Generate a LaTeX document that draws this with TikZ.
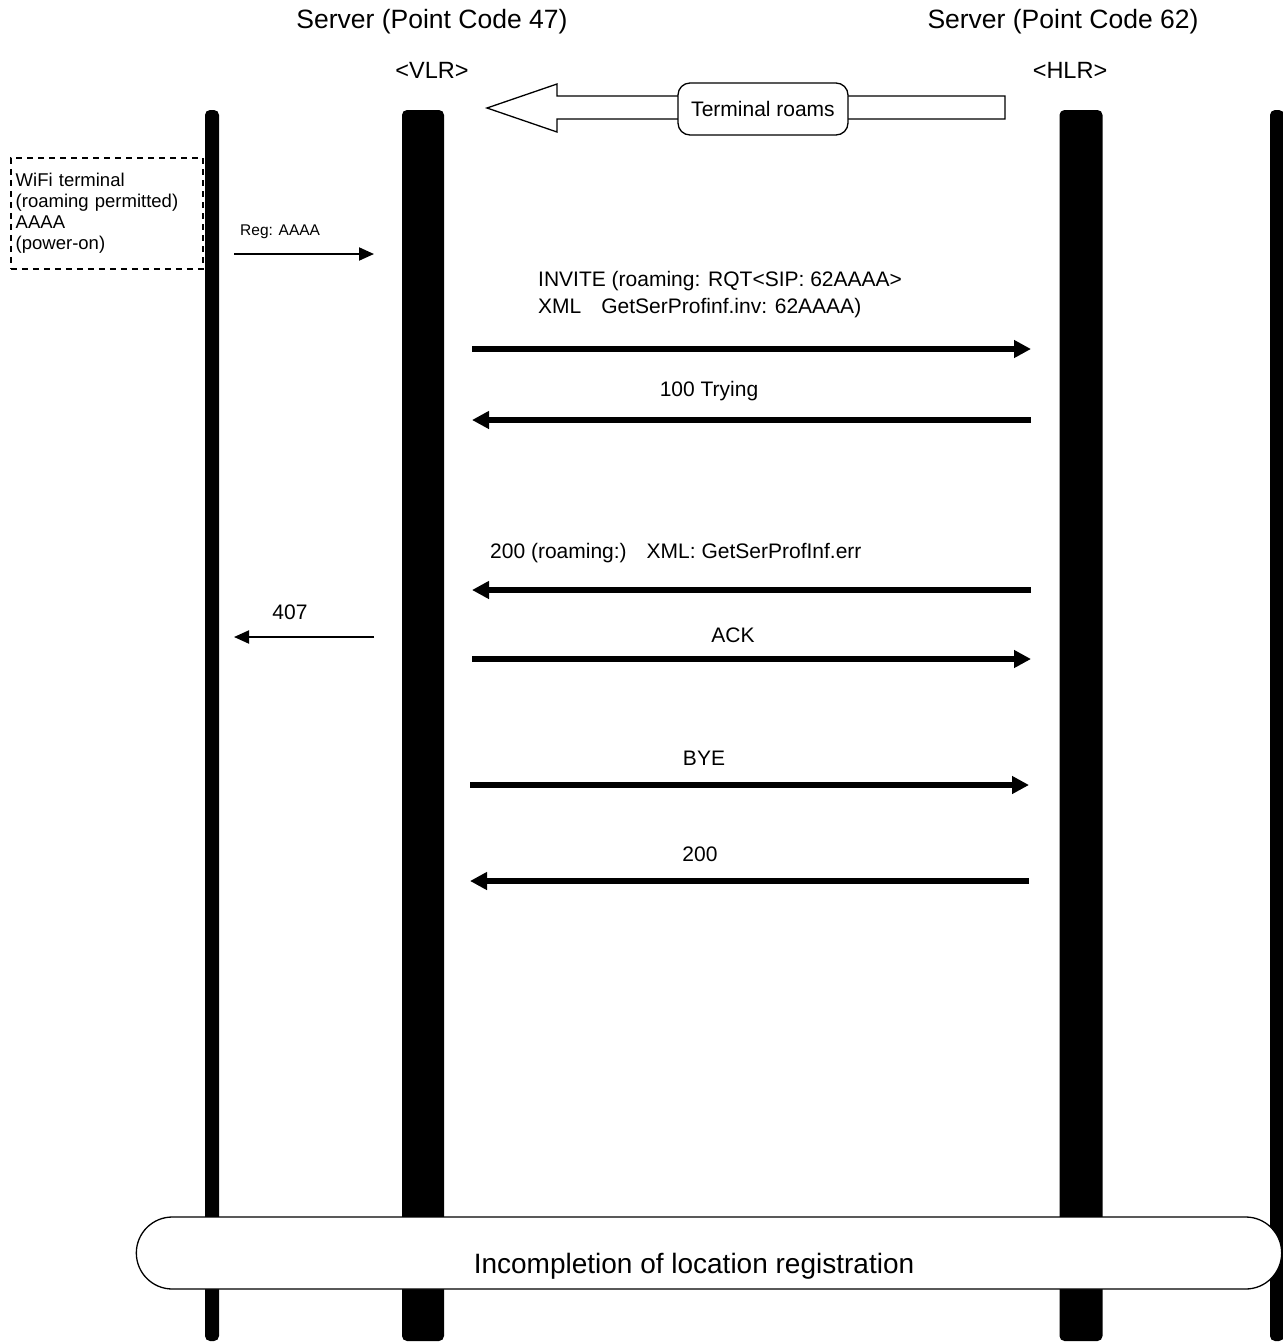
\documentclass[tikz,border=0pt]{standalone}
\usepackage{fontspec}
\setmainfont{Liberation Sans}
\usetikzlibrary{arrows.meta,shapes.misc}
\begin{document}
\begin{tikzpicture}[x=1pt,y=-1pt,
  msg/.style={line width=5.5pt,-{Triangle[length=17pt,width=17pt]}},
  thinmsg/.style={line width=2pt,-{Triangle[length=15pt,width=13pt]}},
  lbl/.style={font=\fontsize{21}{27}\selectfont,inner sep=0pt},
  hdr/.style={font=\fontsize{26.5}{28}\selectfont,inner sep=0pt}]
  \useasboundingbox (0,0) rectangle (1283,1342);

  \foreach \n/\x/\w in {term/212/14,vlr/423/42,hlr/1081/43,far/1277/14}{
    \fill[rounded corners=5pt] (\x-\w/2,1341) -- (\x-\w/2,110) -- (\x+\w/2,110) -- (\x+\w/2,1341) -- cycle;
    \coordinate (\n) at (\x,110);}

  \node[hdr] (srv47) at (432,22) {Server (Point Code 47)};
  \node[hdr,font=\fontsize{23.5}{26}\selectfont] (vlrlbl) at (432,70) {<VLR>};
  \node[hdr] (srv62) at (1063,22) {Server (Point Code 62)};
  \node[hdr,font=\fontsize{23.5}{26}\selectfont] (hlrlbl) at (1070,70) {<HLR>};

  \draw[line width=1.3pt,fill=white] (487,108) -- (557,84) -- (557,96) -- (1005,96) -- (1005,119) -- (557,119) -- (557,132) -- cycle;
  \node[draw,line width=1.3pt,fill=white,rounded corners=12pt,minimum width=170pt,minimum height=52pt,lbl] (roams) at (763,109) {Terminal roams};

  \node[draw,dash pattern=on 6pt off 5pt,line width=1.5pt,anchor=north west,minimum width=192pt,minimum height=111pt,
    font=\fontsize{18.5}{21}\selectfont,align=left,text width=182pt,inner sep=5pt] (wifi) at (10,157)
    {WiFi terminal\\(roaming permitted)\\AAAA\\(power-on)};

  \node[font=\fontsize{15.5}{17}\selectfont,inner sep=0pt,anchor=west] (reglbl) at (240,232) {Reg: AAAA};
  \coordinate (reg-s) at (234,254); \coordinate (reg-e) at (374,254);
  \draw[thinmsg] (reg-s) -- (reg-e);
  \node[lbl] (rej) at (290,612) {407};
  \coordinate (rej-s) at (374,637); \coordinate (rej-e) at (234,637);
  \draw[thinmsg] (rej-s) -- (rej-e);

  \foreach \n/\a/\b/\y in {inv/472/1031/349,try/1031/472/420,ok/1031/472/590,ack/472/1031/659,bye/470/1029/785,fin/1029/470/881}{
    \coordinate (\n-s) at (\a,\y); \coordinate (\n-e) at (\b,\y);
    \draw[msg] (\n-s) -- (\n-e);}

  \node[lbl,anchor=west,align=left] (invlbl) at (538,295) {INVITE (roaming: RQT<SIP: 62AAAA>\\XML\hspace{20pt}GetSerProfinf.inv: 62AAAA)};
  \node[lbl] (trylbl) at (709,391) {100 Trying};
  \node[lbl,anchor=west] (oklbl) at (490,553) {200 (roaming:)\hspace{20pt}XML: GetSerProfInf.err};
  \node[lbl] (acklbl) at (733,635) {ACK};
  \node[lbl] (byelbl) at (704,758) {BYE};
  \node[lbl] (finlbl) at (700,854) {200};

  \node[draw,line width=1.3pt,fill=white,rounded rectangle,minimum width=1152pt,minimum height=72pt] (incbox) at (709,1253) {};
  \node[font=\fontsize{28}{30}\selectfont,inner sep=0pt] (inclbl) at (694,1266) {Incompletion of location registration};
\end{tikzpicture}
\end{document}
